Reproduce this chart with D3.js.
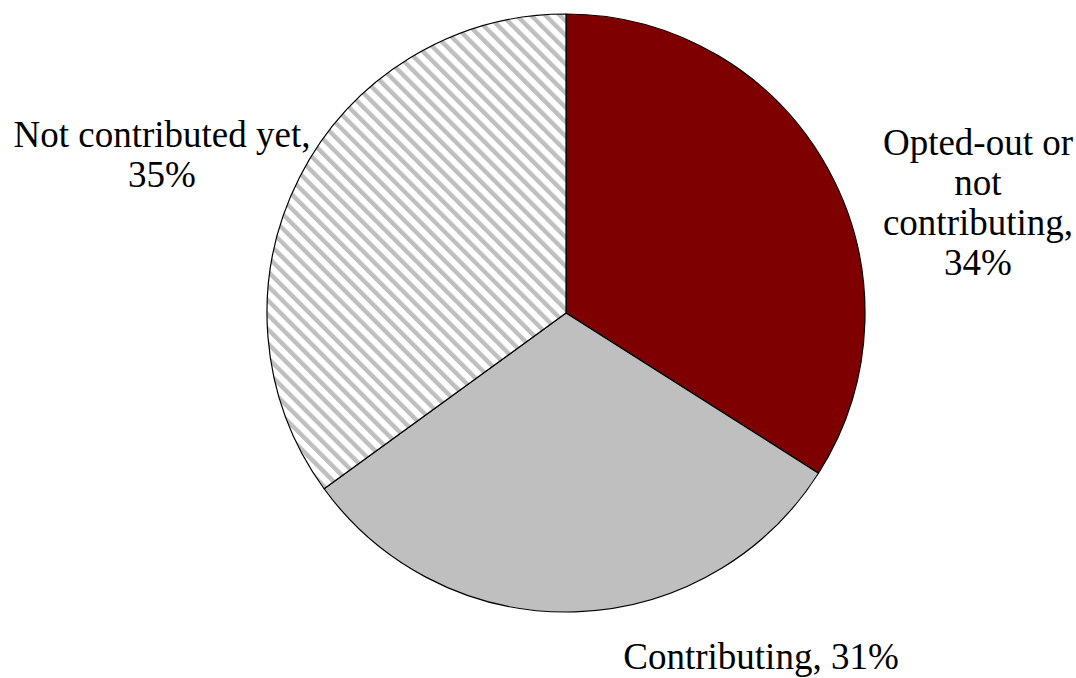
<!DOCTYPE html>
<html>
<head>
<meta charset="utf-8">
<script src="https://cdn.jsdelivr.net/npm/d3@7"></script>
<style>
  html, body { margin: 0; padding: 0; background: #fff; }
  svg { display: block; }
</style>
</head>
<body>
<svg id="chart" width="1076" height="678"></svg>
<script>
// Participation status shares (percent), clockwise from 12 o'clock
const categories = ["Opted-out or not contributing", "Contributing", "Not contributed yet"];
const values = [34, 31, 35];
// Label lines as printed next to each slice
const labelLines = [
  ["Opted-out or", "not", "contributing,", "34%"],
  ["Contributing, 31%"],
  ["Not contributed yet,", "35%"]
];

const width = 1076, height = 678;
const cx = 566, cy = 313, radius = 299;
const fontSize = 37, lineHeight = 40;

const svg = d3.select("#chart");

// Diagonal hatch fill (stripes running top-left to bottom-right)
const defs = svg.append("defs");
const step = 10.2;
const hatch = defs.append("pattern")
  .attr("id", "hatch")
  .attr("patternUnits", "userSpaceOnUse")
  .attr("width", step)
  .attr("height", step)
  .attr("patternTransform", "rotate(-45)");
hatch.append("rect").attr("width", step).attr("height", step).attr("fill", "#fff");
hatch.append("rect").attr("width", 4.4).attr("height", step).attr("fill", "#BFBFBF");

const fills = ["#7F0000", "#BFBFBF", "url(#hatch)"];

const pie = d3.pie().sort(null).value(d => d);
const arc = d3.arc().innerRadius(0).outerRadius(radius);
const arcs = pie(values);

const g = svg.append("g").attr("transform", `translate(${cx},${cy})`);
g.selectAll("path.slice")
  .data(arcs)
  .join("path")
  .attr("class", "slice")
  .attr("d", arc)
  .attr("fill", (d, i) => fills[i])
  .attr("stroke", "#000")
  .attr("stroke-width", 1.2)
  .attr("stroke-linejoin", "round");

// Label anchor points (center x, first baseline y)
const labelPos = [
  { x: 978, y: 155 },
  { x: 761, y: 669 },
  { x: 162, y: 147 }
];

const labels = svg.append("g");
labelLines.forEach((lines, i) => {
  const t = labels.append("text")
    .attr("text-anchor", "middle")
    .attr("font-family", "Liberation Serif")
    .attr("font-size", fontSize)
    .attr("fill", "#000")
    .attr("x", labelPos[i].x)
    .attr("y", labelPos[i].y);
  lines.forEach((ln, k) => {
    t.append("tspan")
      .attr("x", labelPos[i].x)
      .attr("dy", k === 0 ? 0 : lineHeight)
      .text(ln);
  });
});
</script>
</body>
</html>
